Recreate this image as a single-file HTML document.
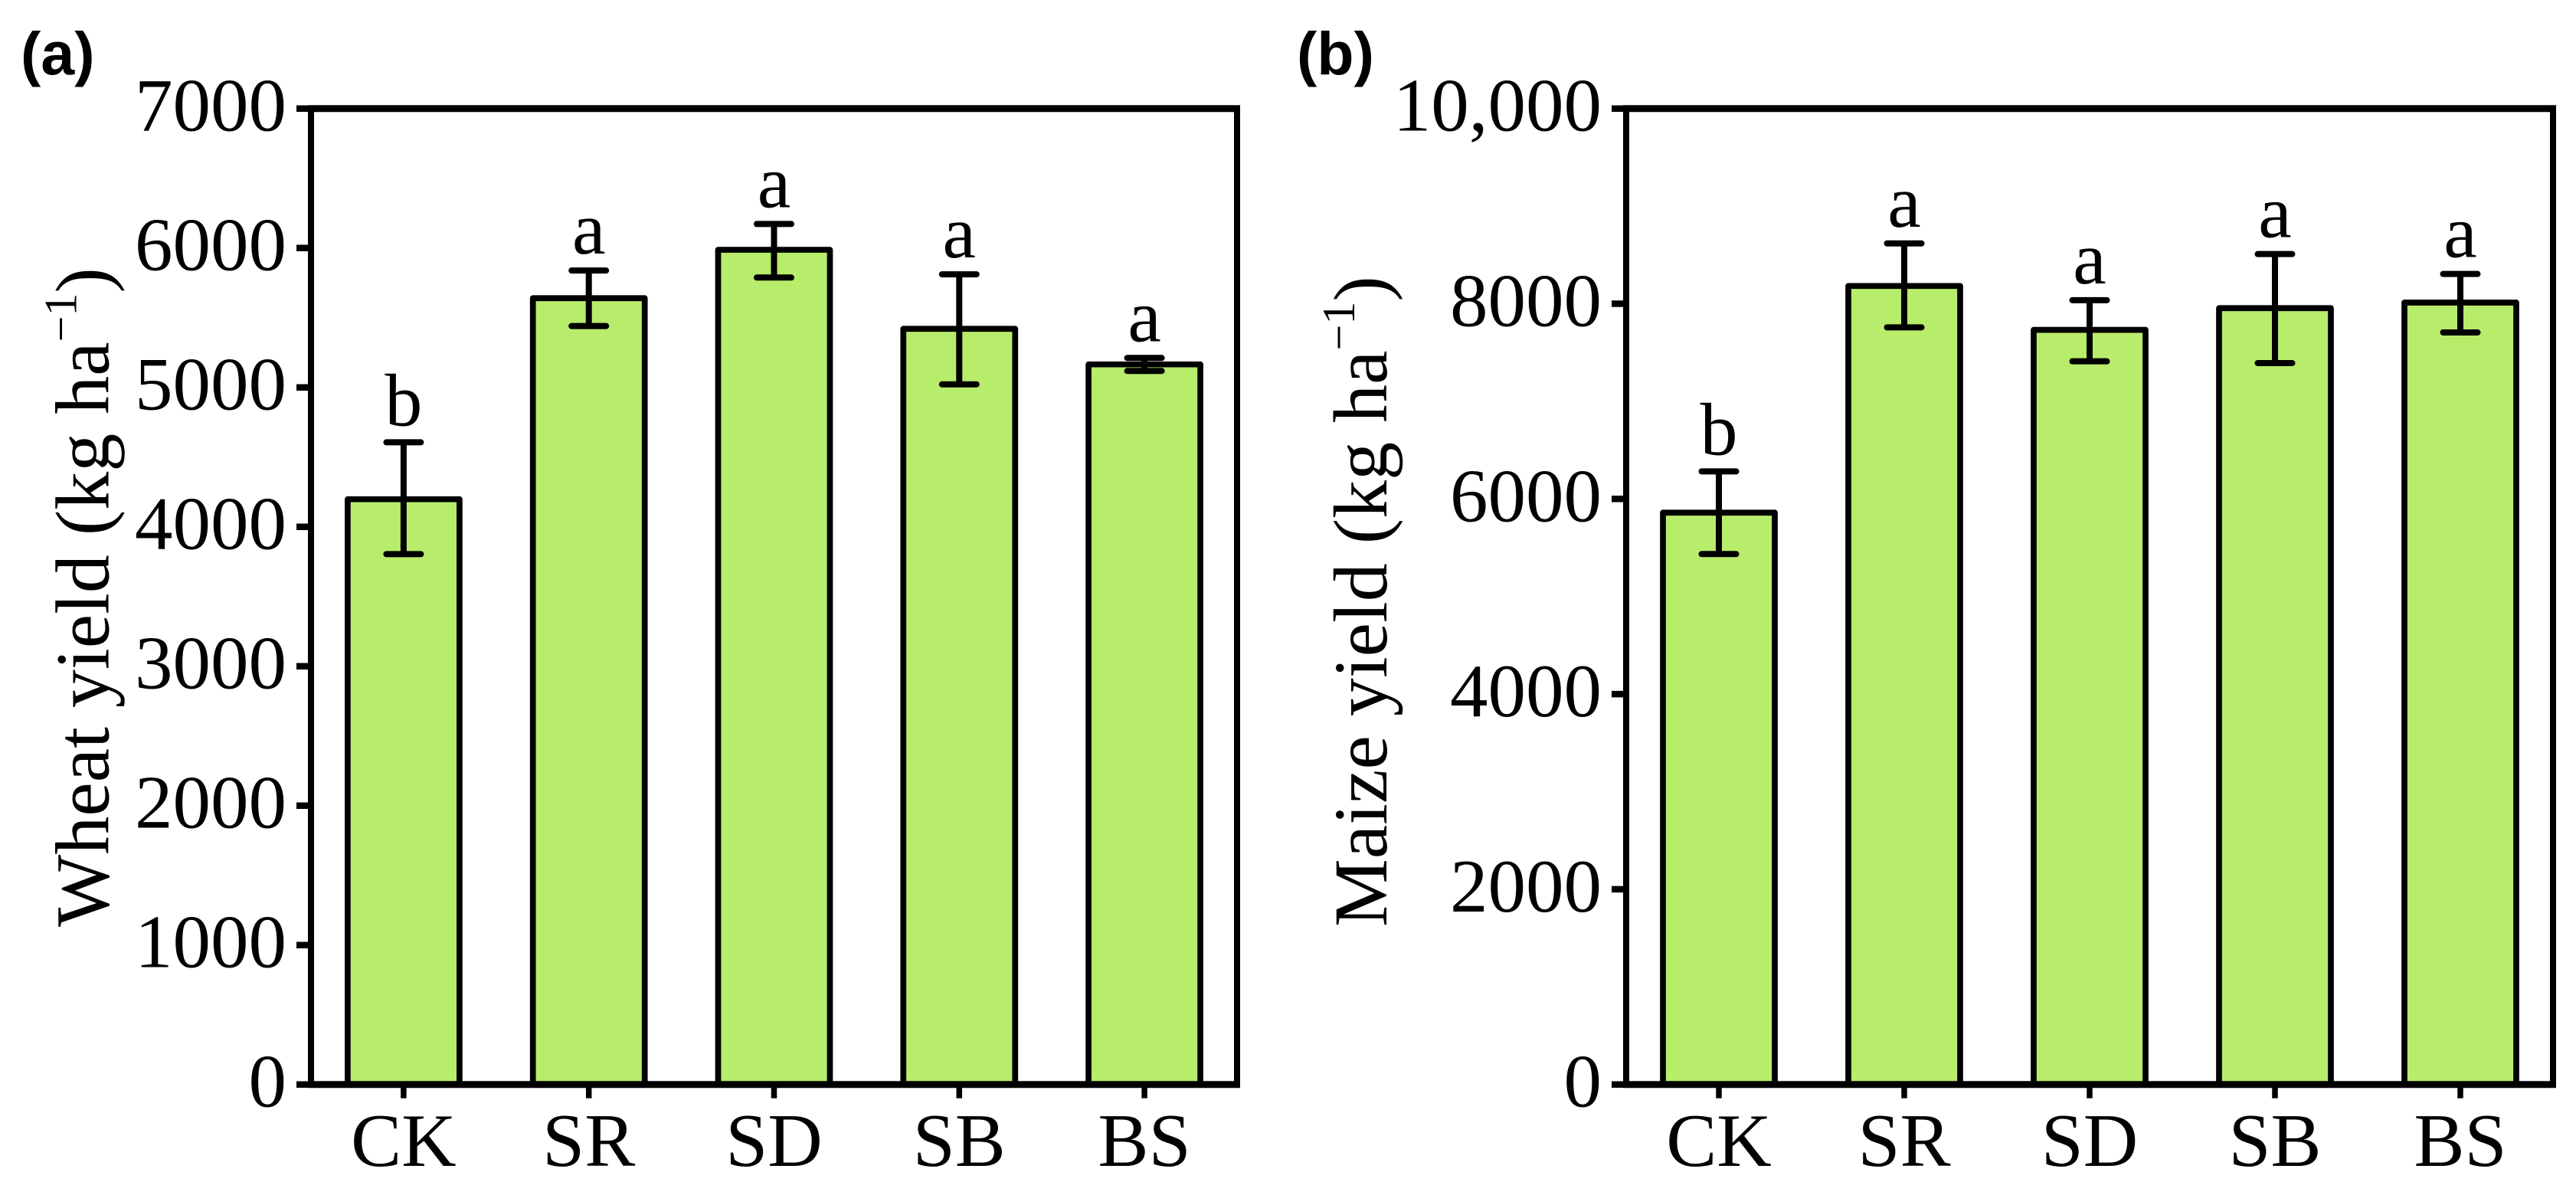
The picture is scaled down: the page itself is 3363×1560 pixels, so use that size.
<!DOCTYPE html>
<html lang="en">
<head>
<meta charset="utf-8">
<title>Wheat and maize yield</title>
<style>
html,body{margin:0;padding:0;background:#fff;width:3363px;height:1560px;overflow:hidden}
svg{display:block}
text{font-family:"Liberation Serif",serif;fill:#000}
.panel-tag{font-family:"Liberation Sans",sans-serif;font-weight:700;font-size:79px}
</style>
</head>
<body>
<svg id="chart" xmlns="http://www.w3.org/2000/svg" width="3363" height="1560" viewBox="0 0 3363 1560">
  <rect width="3363" height="1560" fill="#ffffff"/>
  <text class="panel-tag" x="27" y="97">(a)</text>
  <text class="panel-tag" x="1693" y="97">(b)</text>
  <text transform="translate(141.5 1210) rotate(-90)" font-size="100">Wheat yield (kg ha<tspan dy="-42" font-size="60">−1</tspan><tspan dy="42">)</tspan></text>
  <text transform="translate(1810 1210) rotate(-90)" font-size="100">Maize yield (kg ha<tspan dy="-42" font-size="60">−1</tspan><tspan dy="42">)</tspan></text>
  <g id="panel-a"></g>
  <g id="panel-b"></g>
</svg>
<script>
const categories = ['CK', 'SR', 'SD', 'SB', 'BS'];

const wheatMeans = [4198, 5640, 5987, 5420, 5165];
const wheatErrHigh = [4606, 5838, 6172, 5811, 5211];
const wheatErrLow = [3804, 5440, 5788, 5022, 5118];
const wheatLetters = ['b', 'a', 'a', 'a', 'a'];
const wheatTicks = [0, 1000, 2000, 3000, 4000, 5000, 6000, 7000];
const wheatTickLabels = ['0', '1000', '2000', '3000', '4000', '5000', '6000', '7000'];

const maizeMeans = [5859, 8182, 7732, 7955, 8012];
const maizeErrHigh = [6282, 8618, 8036, 8509, 8305];
const maizeErrLow = [5435, 7758, 7410, 7392, 7706];
const maizeLetters = ['b', 'a', 'a', 'a', 'a'];
const maizeTicks = [0, 2000, 4000, 6000, 8000, 10000];
const maizeTickLabels = ['0', '2000', '4000', '6000', '8000', '10,000'];

const NS = 'http://www.w3.org/2000/svg';

function make(parent, tag, attrs) {
  const el = document.createElementNS(NS, tag);
  for (const k in attrs) el.setAttribute(k, attrs[k]);
  parent.appendChild(el);
  return el;
}

function drawPanel(group, frame, means, errHigh, errLow, letters, ticks, tickLabels) {
  const yMax = ticks[ticks.length - 1];
  const y = v => frame.bottom - (v / yMax) * (frame.bottom - frame.top);
  const step = (frame.right - frame.left) / categories.length;
  const x = i => frame.left + step * (i + 0.5);
  const barW = 146;
  const capW = 45;

  means.forEach((m, i) => {
    const bar = make(group, 'rect', {
      x: x(i) - barW / 2, y: y(m), width: barW, height: y(0) - y(m),
      fill: '#b8ec6b', stroke: '#000', 'stroke-width': 7.7, 'stroke-linejoin': 'round'
    });
    
    
  });

  means.forEach((m, i) => {
    const stem = make(group, 'line', {
      x1: x(i), x2: x(i), y1: y(errHigh[i]), y2: y(errLow[i]), stroke: '#000', 'stroke-width': 8
    });
    
    
    const capHigh = make(group, 'line', {
      x1: x(i) - capW / 2, x2: x(i) + capW / 2, y1: y(errHigh[i]), y2: y(errHigh[i]),
      stroke: '#000', 'stroke-width': 8, 'stroke-linecap': 'round'
    });
    
    
    const capLow = make(group, 'line', {
      x1: x(i) - capW / 2, x2: x(i) + capW / 2, y1: y(errLow[i]), y2: y(errLow[i]),
      stroke: '#000', 'stroke-width': 8, 'stroke-linecap': 'round'
    });
    
    
    const letter = make(group, 'text', {
      x: x(i), y: y(errHigh[i]) - 22, 'text-anchor': 'middle', 'font-size': 98
    });
    letter.textContent = letters[i];
    
    
  });

  const hLines = [frame.top, frame.bottom];
  hLines.forEach(py => {
    const edge = make(group, 'line', {
      x1: frame.left - 4, x2: frame.right + 4, y1: py, y2: py, stroke: '#000', 'stroke-width': 9
    });
    
    
  });
  const vLines = [frame.left, frame.right];
  vLines.forEach(px => {
    const edge = make(group, 'line', {
      x1: px, x2: px, y1: frame.top, y2: frame.bottom, stroke: '#000', 'stroke-width': 8
    });
    
    
  });

  ticks.forEach((t, i) => {
    const mark = make(group, 'line', {
      x1: frame.left - 19, x2: frame.left, y1: y(t), y2: y(t), stroke: '#000', 'stroke-width': 8.5
    });
    
    
    const label = make(group, 'text', {
      x: frame.left - 32, y: y(t) + 29, 'text-anchor': 'end', 'font-size': 99
    });
    label.textContent = tickLabels[i];
    
    
  });

  categories.forEach((c, i) => {
    const mark = make(group, 'line', {
      x1: x(i), x2: x(i), y1: frame.bottom, y2: frame.bottom + 18, stroke: '#000', 'stroke-width': 7.5
    });
    
    
    const label = make(group, 'text', {
      x: x(i), y: 1522, 'text-anchor': 'middle', 'font-size': 99
    });
    label.textContent = c;
    
    
  });
}

drawPanel(document.getElementById('panel-a'),
  { left: 406, right: 1615, top: 141.7, bottom: 1415.7 },
  wheatMeans, wheatErrHigh, wheatErrLow, wheatLetters, wheatTicks, wheatTickLabels);

drawPanel(document.getElementById('panel-b'),
  { left: 2123, right: 3333, top: 141.7, bottom: 1415.7 },
  maizeMeans, maizeErrHigh, maizeErrLow, maizeLetters, maizeTicks, maizeTickLabels);
</script>
</body>
</html>
